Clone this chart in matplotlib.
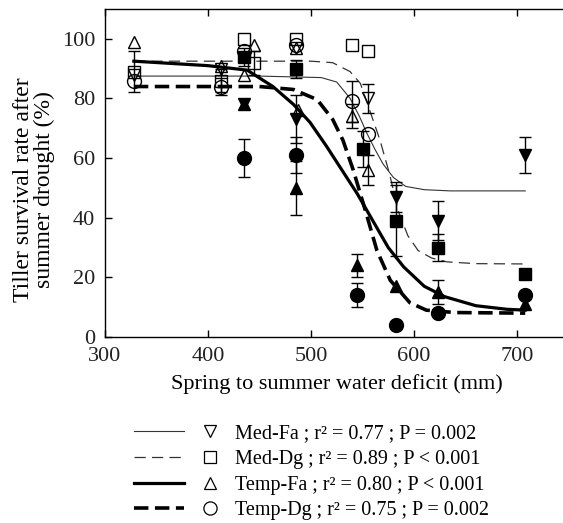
import numpy as np
import matplotlib
matplotlib.use("Agg")
import matplotlib.pyplot as plt
from matplotlib.lines import Line2D
from matplotlib.legend_handler import HandlerTuple

plt.rcParams["font.family"] = ["Liberation Serif", "DejaVu Serif"]

# ── Observed points (x = spring-summer water deficit, y = survival %) ──
# open markers
medfa_open_x = [328, 413, 485, 555]
medfa_open_y = [88, 90, 97, 80]
medfa_open_e = [0, 0, 0, 5]
meddg_open_x = [328, 413, 435, 445, 485, 540, 555]
meddg_open_y = [89, 86, 100, 92, 100, 98, 96]
meddg_open_e = [7, 4, 0, 4, 0, 0, 0]
tempfa_open_x = [328, 413, 435, 445, 485, 487, 540, 555]
tempfa_open_y = [99, 91, 88, 98, 97, 76, 74, 56]
tempfa_open_e = [0, 0, 0, 0, 0, 0, 4, 5]
tempdg_open_x = [328, 413, 435, 485, 540, 555]
tempdg_open_y = [86, 84, 96, 98, 79, 68]
tempdg_open_e = [0, 3, 0, 0, 7, 0]

# filled markers
medfa_fill_x = [435, 485, 583, 623, 708]
medfa_fill_y = [78, 73, 47, 39, 61]
medfa_fill_e = [0, 8, 5, 6.5, 6]
meddg_fill_x = [435, 485, 550, 583, 623, 708]
meddg_fill_y = [94, 90, 63, 39, 30, 21]
meddg_fill_e = [3, 3, 6, 12, 4.5, 0]
tempfa_fill_x = [435, 485, 545, 583, 623, 708]
tempfa_fill_y = [78, 50, 24, 17, 15, 11]
tempfa_fill_e = [0, 9, 4, 0, 4, 0]
tempdg_fill_x = [435, 485, 545, 583, 623, 708]
tempdg_fill_y = [60, 61, 14, 4, 8, 14]
tempdg_fill_e = [6.5, 6, 4, 0, 0, 0]

# ── Fitted curves ──
medfa_fit_x = [328, 450, 510, 525, 538, 547, 554, 562, 570, 580, 592, 610, 635, 708]
medfa_fit_y = [87.5, 87.5, 87, 85.5, 80, 74, 68.5, 63, 58, 53.5, 50.5, 49.4, 49, 49]
meddg_fit_x = [328, 500, 521, 538, 548, 557, 567, 576, 585, 594, 604, 617, 632, 660, 708]
meddg_fit_y = [92.5, 92.5, 92, 89, 85, 76, 66, 55, 42, 34, 29, 26.5, 25.2, 24.6, 24.5]
tempfa_fit_x = [328, 400, 438, 463, 483, 499, 515, 530, 545, 560, 575, 590, 610, 630, 660, 690, 708]
tempfa_fit_y = [92.5, 91, 89.5, 84, 78, 72, 64, 56, 48, 39, 30, 23.5, 17, 13.5, 10.5, 9.3, 9]
tempdg_fit_x = [328, 450, 483, 506, 521, 531, 541, 554, 564, 577, 596, 612, 640, 708]
tempdg_fit_y = [84, 84, 83, 79.6, 73, 66, 56, 41, 29, 19, 11.5, 9, 8.2, 8]

LABELS = ["Med-Fa ; r² = 0.77 ; P = 0.002",
          "Med-Dg ; r² = 0.89 ; P < 0.001",
          "Temp-Fa ; r² = 0.80 ; P < 0.001",
          "Temp-Dg ; r² = 0.75 ; P = 0.002"]
MARKERS = ["v", "s", "^", "o"]
LINESTYLES = [dict(lw=0.8, color="#333333", ls="-"),
              dict(lw=0.9, color="#333333", dashes=(9, 5)),
              dict(lw=2.3, color="black", ls="-"),
              dict(lw=2.6, color="black", dashes=(4, 1.8))]
MSIZE = {"v": 9, "s": 9, "^": 9, "o": 10}


def draw_points(ax, xs, ys, es, marker, filled):
    xs, ys, es = np.array(xs), np.array(ys), np.array(es, dtype=float)
    m = es > 0
    if m.any():
        ax.errorbar(xs[m], ys[m], yerr=es[m], fmt="none", ecolor="black",
                    elinewidth=1.0, capsize=4.5, capthick=1.0, zorder=3)
    ax.plot(xs, ys, ls="none", marker=marker, ms=MSIZE[marker],
            mfc="black" if filled else "none", mec="black", mew=1.0, zorder=4)


fig = plt.figure(figsize=(5.63, 5.23), dpi=100)
ax = fig.add_axes([105 / 563, 186 / 523, 463.5 / 563, 328 / 523])

fits = [(medfa_fit_x, medfa_fit_y), (meddg_fit_x, meddg_fit_y),
        (tempfa_fit_x, tempfa_fit_y), (tempdg_fit_x, tempdg_fit_y)]
for (fx, fy), st in zip(fits, LINESTYLES):
    ax.plot(fx, fy, zorder=2, **st)

opens = [(medfa_open_x, medfa_open_y, medfa_open_e),
         (meddg_open_x, meddg_open_y, meddg_open_e),
         (tempfa_open_x, tempfa_open_y, tempfa_open_e),
         (tempdg_open_x, tempdg_open_y, tempdg_open_e)]
fills = [(medfa_fill_x, medfa_fill_y, medfa_fill_e),
         (meddg_fill_x, meddg_fill_y, meddg_fill_e),
         (tempfa_fill_x, tempfa_fill_y, tempfa_fill_e),
         (tempdg_fill_x, tempdg_fill_y, tempdg_fill_e)]
for (x, y, e), mk in zip(opens, MARKERS):
    draw_points(ax, x, y, e, mk, filled=False)
for (x, y, e), mk in zip(fills, MARKERS):
    draw_points(ax, x, y, e, mk, filled=True)

ax.set_xlim(300, 750)
ax.set_ylim(0, 110)
ax.set_xticks([300, 400, 500, 600, 700])
ax.set_yticks([0, 20, 40, 60, 80, 100])
ax.tick_params(direction="in", length=5, width=1.0, labelsize=16,
               top=True, labelcolor="#222222", pad=7)
ax.spines["right"].set_visible(False)
for sp in ["left", "bottom", "top"]:
    ax.spines[sp].set_linewidth(1.0)

ax.set_xlabel("Spring to summer water deficit (mm)", fontsize=16, labelpad=6)
ax.set_ylabel("Tiller survival rate after\nsummer drought (%)", fontsize=17,
              linespacing=1.0)
ax.yaxis.set_label_coords(-0.108, 0.45)

handles = []
for mk, st in zip(MARKERS, LINESTYLES):
    ln = Line2D([], [], **st)
    pt = Line2D([], [], ls="none", marker=mk, ms=MSIZE[mk] * 0.95,
                mfc="none", mec="black", mew=0.9)
    handles.append((ln, pt))

fig.legend(handles, LABELS, loc="upper left",
           bbox_to_anchor=(134 / 563, 1 - 424 / 523),
           frameon=False, fontsize=14.5, handlelength=5.0, handletextpad=0.0,
           labelspacing=0.33, borderpad=0, borderaxespad=0,
           handler_map={tuple: HandlerTuple(ndivide=None, pad=0.0)})

fig.savefig("out.png", dpi=100)
